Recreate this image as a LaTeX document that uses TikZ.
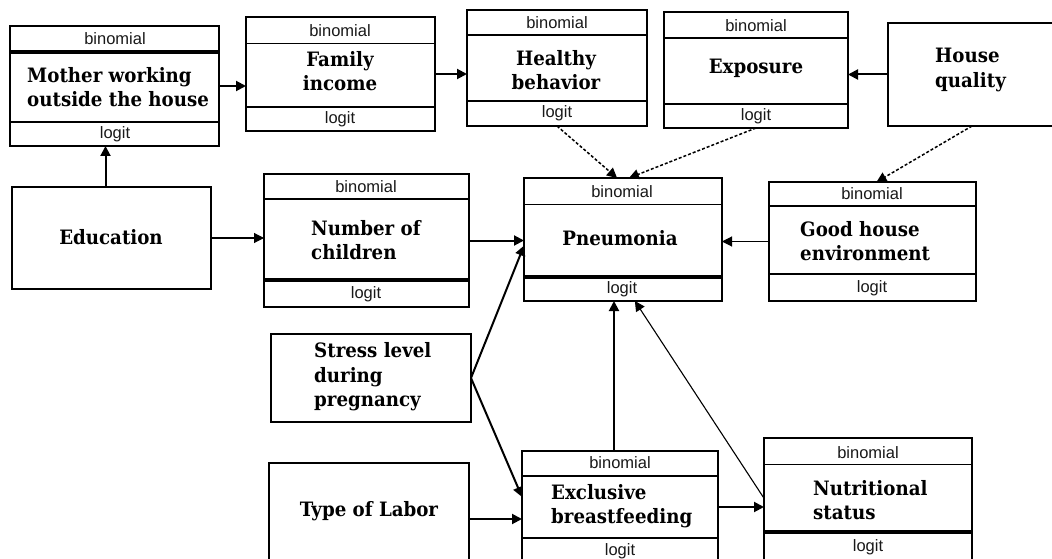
\documentclass[tikz,border=0pt]{standalone}
\usepackage{fontspec}
\newfontfamily\lblfont{Liberation Sans}
\newfontfamily\boxfont[FakeStretch=0.92]{DejaVu Serif}
\usetikzlibrary{arrows.meta,calc}
\tikzset{
  frame/.style={draw, line width=2pt, inner sep=0pt, outer sep=0pt, fill=white},
  lbl/.style={font=\lblfont\fontsize{16.5}{16.5}\selectfont, inner sep=0pt, text=black!90},
  txt/.style={font=\boxfont\fontsize{19.8}{24.5}\selectfont\bfseries, inner sep=0pt, align=center},
  txtl/.style={txt, align=left, anchor=west},
  sepn/.style={line width=1.5pt},
  septhin/.style={line width=0.8pt},
  septhick/.style={line width=3.2pt},
  arr/.style={-{Triangle[length=10pt,width=10pt]}, line width=2pt},
  arrthin/.style={arr, line width=1.1pt},
  arrdash/.style={arr, line width=1.5pt, dash pattern=on 3pt off 2pt},
}
\newcommand\bx[5]{\node[frame, minimum width={#4pt-#2pt}, minimum height={#5pt-#3pt}] (#1) at ({(#2+#4)/2},{(#3+#5)/2}) {};}
\newcommand\hsep[3]{\draw[#3] (#1.west |- 0,#2) -- (#1.east |- 0,#2);}
\begin{document}
\begin{tikzpicture}[x=1pt,y=-1pt]
\useasboundingbox (0,0) rectangle (1052,559);
\clip (0,0) rectangle (1052,559);
% boxes
\bx{mother}{10}{26}{219}{146}
\bx{fi}{246}{17}{435}{131}
\bx{hb}{467}{10}{647}{126}
\bx{exp}{664}{12}{848}{128}
\bx{hq}{888}{23}{1060}{126}
\bx{edu}{12}{187}{211}{289}
\bx{nc}{264}{174}{469}{307}
\bx{pn}{524}{178}{722}{301}
\bx{gh}{769}{182}{976}{301}
\bx{st}{271}{334}{471}{422}
\bx{tl}{269}{463}{469}{575}
\bx{ex}{522}{451}{718}{563}
\bx{nu}{764}{438}{972}{575}
% separators
\hsep{mother}{52}{septhick}
\hsep{mother}{122}{sepn}
\hsep{fi}{43}{septhin}
\hsep{fi}{107}{sepn}
\hsep{hb}{35}{sepn}
\hsep{hb}{101}{sepn}
\hsep{exp}{38}{sepn}
\hsep{exp}{104}{sepn}
\hsep{nc}{199}{sepn}
\hsep{nc}{280}{septhick}
\hsep{pn}{204}{septhin}
\hsep{pn}{277}{septhick}
\hsep{gh}{206}{sepn}
\hsep{gh}{274}{sepn}
\hsep{ex}{476}{sepn}
\hsep{ex}{538}{sepn}
\hsep{nu}{464}{septhin}
\hsep{nu}{532}{septhick}
% small labels
\node[lbl] (motherB) at (115,39) {binomial};
\node[lbl] (motherL) at (115,134) {logit};
\node[lbl] (fiB) at (340,31) {binomial};
\node[lbl] (fiL) at (340,119) {logit};
\node[lbl] (hbB) at (557,23) {binomial};
\node[lbl] (hbL) at (557,113) {logit};
\node[lbl] (expB) at (756,26) {binomial};
\node[lbl] (expL) at (756,116) {logit};
\node[lbl] (ncB) at (366,187) {binomial};
\node[lbl] (ncL) at (366,294) {logit};
\node[lbl] (pnB) at (622,192) {binomial};
\node[lbl] (pnL) at (622,289) {logit};
\node[lbl] (ghB) at (872,194) {binomial};
\node[lbl] (ghL) at (872,288) {logit};
\node[lbl] (exB) at (620,463) {binomial};
\node[lbl] (exL) at (620,551) {logit};
\node[lbl] (nuB) at (868,453) {binomial};
\node[lbl] (nuL) at (868,547) {logit};
% main texts
\node[txtl] (motherT) at (27,87) {Mother working\\outside the house};
\node[txt] (fiT) at (340,71) {Family\\income};
\node[txt] (hbT) at (556,70) {Healthy\\behavior};
\node[txt] (expT) at (756,68) {Exposure};
\node[txtl] (hqT) at (935,70) {House\\quality};
\node[txt] (eduT) at (111,237) {Education};
\node[txtl] (ncT) at (311,240) {Number of\\children};
\node[txt] (pnT) at (620,238) {Pneumonia};
\node[txtl] (ghT) at (800,241) {Good house\\environment};
\node[txtl] (stT) at (314,377) {Stress level\\during\\pregnancy};
\node[txt] (tlT) at (369,511) {Type of Labor};
\node[txtl] (exT) at (551,506) {Exclusive\\breastfeeding};
\node[txtl] (nuT) at (813,500) {Nutritional\\status};
% connectors
\draw[arr] ([xshift=-6pt]edu.north) -- ([xshift=-6pt]edu.north |- mother.south);
\draw[arr] (mother.east) -- (mother.east -| fi.west);
\draw[arr] (fi.east) -- (fi.east -| hb.west);
\draw[arr] (hq.west) -- (hq.west -| exp.east);
\draw[arrdash] (hb.south) -- ($(pn.north west)!0.47!(pn.north east)$);
\draw[arrdash] (exp.south) -- ($(pn.north west)!0.53!(pn.north east)$);
\draw[arrdash] ([xshift=-2pt]hq.south) -- ([xshift=4pt]gh.north);
\draw[arrthin] (gh.west) -- (gh.west -| pn.east);
\draw[arrthin] (edu.east) -- (edu.east -| nc.west);
\draw[arr] (nc.east) -- (nc.east -| pn.west);
\draw[arr] (st.east) -- ($(pn.north west)!0.55!(pn.south west)$);
\draw[arr] (st.east) -- ($(ex.north west)!0.41!(ex.south west)$);
\draw[arr] (tl.east) -- (tl.east -| ex.west);
\draw[arr] ([xshift=-6pt]ex.north) -- ([xshift=-6pt]ex.north |- pn.south);
\draw[arr] (ex.east) -- (ex.east -| nu.west);
\draw[arrthin] ($(nu.north west)!0.44!(nu.south west)$) -- ($(pn.south west)!0.56!(pn.south east)$);
\end{tikzpicture}
\end{document}
